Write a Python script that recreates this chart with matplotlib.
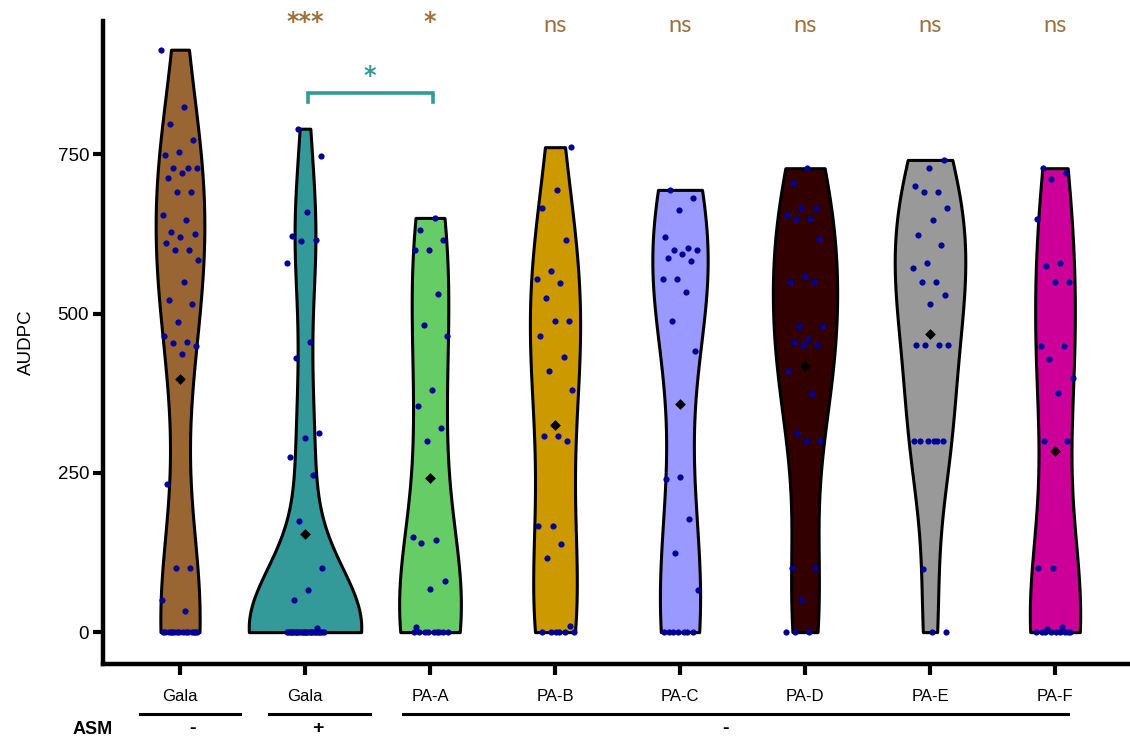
import numpy as np
import matplotlib
matplotlib.use("Agg")
import matplotlib.pyplot as plt
import matplotlib.transforms as mtransforms

# AUDPC values, one list per violin
gala_minus = [914, 824, 797, 773, 754, 749, 728, 728, 728, 720, 712, 691, 691, 655, 646,
              628, 624, 620, 611, 599, 599, 584, 549, 521, 515, 487, 465, 455, 454, 449,
              437, 232, 101, 100, 51, 33,
              0, 0, 0, 0, 0, 0, 0, 0, 0, 0, 0, 0, 0, 0, 0]
gala_plus = [790, 747, 659, 621, 615, 614, 580, 455, 430, 312, 305, 275, 247, 175, 100,
             66, 51, 6,
             0, 0, 0, 0, 0, 0, 0, 0, 0, 0, 0, 0, 0, 0, 0, 0, 0, 0, 0, 0, 0, 0, 0, 0,
             0, 0, 0, 0]
pa_a = [650, 631, 615, 599, 599, 530, 482, 464, 380, 355, 320, 300, 150, 145, 140, 81,
        67, 8, 0, 0, 0, 0, 0, 0, 0, 0, 0]
pa_b = [761, 694, 666, 615, 566, 554, 548, 525, 488, 488, 465, 431, 409, 380, 308, 307,
        300, 166, 166, 139, 117, 10, 0, 0, 0, 0, 0, 0]
pa_c = [694, 682, 662, 620, 603, 599, 599, 594, 587, 583, 554, 554, 533, 488, 441, 244,
        240, 178, 124, 66, 0, 0, 0, 0, 0, 0, 0]
pa_d = [728, 705, 666, 666, 655, 648, 648, 617, 559, 549, 549, 480, 480, 460, 455, 450,
        450, 409, 374, 313, 300, 300, 100, 100, 51, 0, 0, 0]
pa_e = [741, 728, 700, 691, 691, 665, 646, 623, 608, 580, 572, 550, 550, 529, 515, 450,
        450, 450, 450, 300, 300, 300, 300, 300, 300, 99, 0, 0]
pa_f = [728, 720, 711, 648, 580, 575, 549, 549, 449, 449, 429, 399, 375, 300, 300, 100,
        100, 8, 5, 0, 0, 0, 0, 0, 0, 0, 0, 0]

groups = [gala_minus, gala_plus, pa_a, pa_b, pa_c, pa_d, pa_e, pa_f]
tick_labels = ["Gala", "Gala", "PA-A", "PA-B", "PA-C", "PA-D", "PA-E", "PA-F"]
signif = ["", "***", "*", "ns", "ns", "ns", "ns", "ns"]
asm_labels = ["-", "+", "-"]
fills = ["#996633", "#339999", "#66CC66", "#CC9900", "#9999FF", "#330000", "#999999", "#CC0099"]

plt.rcParams['font.family'] = ['Liberation Sans', 'DejaVu Sans']


def bw_nrd0(x):
    x = np.asarray(x, float)
    hi = x.std(ddof=1)
    q75, q25 = np.percentile(x, [75, 25])
    lo = min(hi, (q75 - q25) / 1.34)
    if lo == 0:
        lo = hi
    return 0.9 * lo * len(x) ** -0.2


def kde(x, adjust=1.15):
    x = np.asarray(x, float)
    bw = bw_nrd0(x) * adjust
    grid = np.linspace(x.min(), x.max(), 512)
    d = np.exp(-0.5 * ((grid[:, None] - x[None, :]) / bw) ** 2).sum(1)
    return grid, d / (len(x) * bw * np.sqrt(2 * np.pi))


dens = [kde(g) for g in groups]
dmax = max(d.max() for _, d in dens)

fig = plt.figure(figsize=(11.3, 7.4), dpi=100)
ax = fig.add_axes([103 / 1130, 76 / 740, 1027 / 1130, 643 / 740])

brown_txt = "#A0703C"
for i, (vals, (grid, d)) in enumerate(zip(groups, dens)):
    pos = i + 1
    w = d / dmax * 0.45
    ax.fill_betweenx(grid, pos - w, pos + w, facecolor=fills[i], edgecolor="black",
                     linewidth=2.2, zorder=2)
    n = len(vals)
    jit = ((np.arange(n) * 0.618034 + 0.31 * i) % 1 - 0.5) * 0.3
    ax.scatter(pos + jit, vals, s=20, color="#000099", zorder=3, linewidths=0)
    ax.scatter([pos], [np.mean(vals)], marker="D", s=30, color="black", zorder=4,
               linewidths=0)
    if signif[i] == "ns":
        ax.text(pos, 952, signif[i], ha="center", va="center", fontsize=17,
                color=brown_txt, family=["Lato", "DejaVu Sans"])
    elif signif[i]:
        ax.text(pos, 958, signif[i], ha="center", va="center", fontsize=17,
                color=brown_txt, family="DejaVu Sans", fontweight="bold")

# bracket PA-A vs Gala +
ax.plot([2.02, 2.02, 3.02, 3.02], [832, 846, 846, 832], color="#339999", lw=2.6,
        solid_joinstyle="miter", zorder=5)
ax.text(2.52, 872, "*", ha="center", va="center", fontsize=17, color="#339999",
        family="DejaVu Sans", fontweight="bold")

ax.set_xlim(0.384, 8.6)
ax.set_ylim(-50, 959)
ax.set_xticks(range(1, 9))
ax.set_xticklabels(tick_labels, fontsize=12)
ax.set_yticks([0, 250, 500, 750])
ax.tick_params(axis="y", labelsize=13.5, width=3, length=7, pad=3)
ax.tick_params(axis="x", width=3, length=8, pad=10)
ax.set_ylabel("AUDPC", fontsize=13.5, labelpad=16)
for s in ["top", "right"]:
    ax.spines[s].set_visible(False)
for s in ["left", "bottom"]:
    ax.spines[s].set_linewidth(3.2)

# ASM row under the axis
trans = mtransforms.blended_transform_factory(ax.transData, fig.transFigure)
spans = [(0.68, 1.48), (1.71, 2.52), (2.78, 8.1)]
sign_x = [1.1, 2.1, 5.36]
for (a, b), sx, lab in zip(spans, sign_x, asm_labels):
    ax.plot([a, b], [0.035, 0.035], color="black", lw=2.2, transform=trans, clip_on=False)
    ax.text(sx, 0.016, lab, ha="center", va="center", fontsize=14, fontweight="bold",
            transform=trans)
fig.text(93 / 1130, 0.014, "ASM", ha="center", va="center", fontsize=13, fontweight="bold")

fig.savefig("out.png", dpi=100)
